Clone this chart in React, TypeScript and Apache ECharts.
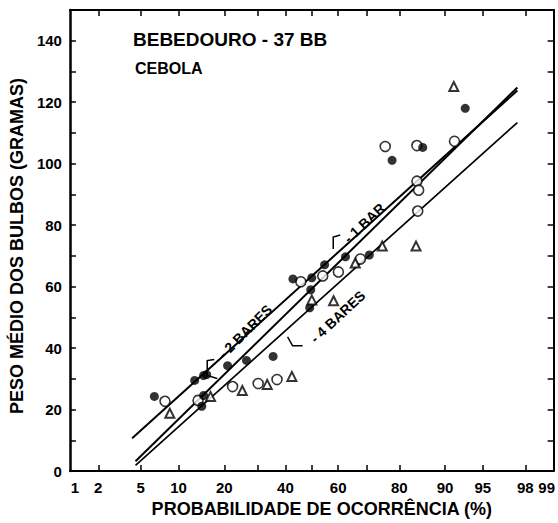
import React, { useEffect, useRef } from "react";
import * as echarts from "echarts";

// ---- data (x = probabilidade de ocorrência %, y = peso médio g) ----
const tickPct = [2, 5, 10, 20, 30, 40, 50, 60, 70, 80, 90, 95, 98];
const labelPct = [1, 2, 5, 10, 20, 40, 60, 80, 90, 95, 98, 99];
const yLabelValues = [0, 20, 40, 60, 80, 100, 120, 140];

const filledPct = [6.5, 13.0, 14.9, 15.6, 14.9, 14.5, 20.9, 26.5, 35.5, 42.8, 50.0, 49.6, 49.2, 54.9, 62.7, 71.0, 78.0, 85.7, 93.0];
const filledGrams = [24.3, 29.5, 31.1, 31.4, 24.6, 21.1, 34.3, 36.0, 37.3, 62.5, 62.9, 59.0, 53.1, 67.1, 69.7, 70.3, 101.1, 105.3, 118.0];

const openPct = [7.9, 13.7, 22.3, 30.3, 36.9, 45.8, 54.2, 60.1, 68.0, 76.0, 84.4, 91.5, 84.4, 84.8, 84.6];
const openGrams = [22.7, 23.0, 27.5, 28.5, 29.8, 61.6, 63.5, 64.8, 69.0, 105.6, 105.9, 107.3, 94.3, 91.4, 84.6];

const triPct = [8.6, 16.5, 25.2, 33.4, 42.4, 50.0, 58.3, 66.2, 75.1, 84.2, 91.4];
const triGrams = [18.8, 24.3, 26.2, 28.2, 30.8, 55.7, 55.4, 67.7, 73.2, 73.2, 125.1];

const line2BaresPct = [4.2, 97.6];
const line2BaresGrams = [10.7, 123.8];
const line1BarPct = [4.5, 97.6];
const line1BarGrams = [3.2, 124.8];
const line4BaresPct = [4.5, 97.6];
const line4BaresGrams = [1.9, 113.4];

const annoText = ["- 2 BARES", "- 1 BAR", "- 4 BARES"];
const annoPct = [26.1, 69.3, 59.8];
const annoGrams = [45.4, 80.7, 50.2];

// inverse normal CDF (Acklam) for the probability scale
function probit(p: number): number {
  const a = [-3.969683028665376e1, 2.209460984245205e2, -2.759285104469687e2, 1.38357751867269e2, -3.066479806614716e1, 2.506628277459239];
  const b = [-5.447609879822406e1, 1.615858368580409e2, -1.556989798598866e2, 6.680131188771972e1, -1.328068155288572e1];
  const c = [-7.784894002430293e-3, -3.223964580411365e-1, -2.400758277161838, -2.549732539343734, 4.374664141464968, 2.938163982698783];
  const d = [7.784695709041462e-3, 3.224671290700398e-1, 2.445134137142996, 3.754408661907416];
  const plow = 0.02425;
  const phigh = 1 - plow;
  if (p < plow) {
    const q = Math.sqrt(-2 * Math.log(p));
    return (((((c[0] * q + c[1]) * q + c[2]) * q + c[3]) * q + c[4]) * q + c[5]) / ((((d[0] * q + d[1]) * q + d[2]) * q + d[3]) * q + 1);
  }
  if (p <= phigh) {
    const q = p - 0.5;
    const r = q * q;
    return ((((((a[0] * r + a[1]) * r + a[2]) * r + a[3]) * r + a[4]) * r + a[5]) * q) / (((((b[0] * r + b[1]) * r + b[2]) * r + b[3]) * r + b[4]) * r + 1);
  }
  const q = Math.sqrt(-2 * Math.log(1 - p));
  return -(((((c[0] * q + c[1]) * q + c[2]) * q + c[3]) * q + c[4]) * q + c[5]) / ((((d[0] * q + d[1]) * q + d[2]) * q + d[3]) * q + 1);
}
const z = (pct: number) => probit(pct / 100);
const pairs = (xs: number[], ys: number[]) => xs.map((p, i) => [z(p), ys[i]]);

const FONT = "'Liberation Sans', Arial, sans-serif";
const X_MIN = z(1);
const X_MAX = z(99);

export default function App() {
  const ref = useRef<HTMLDivElement>(null);
  useEffect(() => {
    if (!ref.current) return;
    const chart = echarts.init(ref.current, null, { renderer: "svg" });
    const labelFor = (v: number) => {
      const p = labelPct.find((q) => Math.abs(z(q) - v) < 1e-6);
      if (p === undefined) return "";
      if (p === 1) return "{l|1}";
      if (p === 99) return "{r|99}";
      return String(p);
    };
    const labelStyle = { fontFamily: FONT, fontWeight: "bold" as const, fontSize: 15, color: "#000" };
    const lineSeries = (name: string, xs: number[], ys: number[], w: number) => ({
      type: "line",
      name,
      data: pairs(xs, ys),
      showSymbol: false,
      symbol: "none",
      lineStyle: { color: "#000", width: w },
      z: 2,
      silent: true,
    });
    chart.setOption({
      animation: false,
      backgroundColor: "#fff",
      title: [
        { text: "BEBEDOURO - 37 BB", left: 133, top: 30, padding: 0, textStyle: { fontFamily: FONT, fontWeight: "bold", fontSize: 19, color: "#000" } },
        { text: "CEBOLA", left: 135, top: 60, padding: 0, textStyle: { fontFamily: FONT, fontWeight: "bold", fontSize: 16, color: "#000" } },
      ],
      grid: { left: 68, right: 2, top: 10, bottom: 50, containLabel: false },
      xAxis: [
        {
          type: "value",
          min: X_MIN,
          max: X_MAX,
          position: "bottom",
          name: "PROBABILIDADE DE OCORRÊNCIA (%)",
          nameLocation: "middle",
          nameGap: 22,
          nameTextStyle: { fontFamily: FONT, fontWeight: "bold", fontSize: 18, color: "#000", padding: [0, 0, 0, 20] },
          axisLine: { onZero: false, lineStyle: { color: "#000", width: 2 } },
          axisTick: { inside: true, length: 6, customValues: tickPct.map(z), lineStyle: { color: "#000", width: 1.5 } },
          axisLabel: {
            ...labelStyle,
            margin: 9,
            customValues: labelPct.map(z),
            formatter: labelFor,
            hideOverlap: false,
            showMinLabel: true,
            showMaxLabel: true,
            rich: {
              l: { ...labelStyle, padding: [0, 0, 0, 10] },
              r: { ...labelStyle, padding: [0, 14, 0, 0] },
            },
          },
          splitLine: { show: false },
        },
        {
          type: "value",
          min: X_MIN,
          max: X_MAX,
          position: "top",
          axisLine: { onZero: false, lineStyle: { color: "#000", width: 2 } },
          axisTick: { inside: true, length: 6, customValues: tickPct.map(z), lineStyle: { color: "#000", width: 1.5 } },
          axisLabel: { show: false },
          splitLine: { show: false },
        },
      ],
      yAxis: [
        {
          type: "value",
          min: 0,
          max: 150,
          interval: 10,
          position: "left",
          name: "PESO MÉDIO DOS BULBOS (GRAMAS)",
          nameLocation: "middle",
          nameGap: 38,
          nameTextStyle: { fontFamily: FONT, fontWeight: "bold", fontSize: 18, color: "#000", padding: [0, 11, 0, 0] },
          axisLine: { onZero: false, lineStyle: { color: "#000", width: 2.5 } },
          axisTick: { inside: true, length: 6, lineStyle: { color: "#000", width: 1.5 } },
          axisLabel: {
            ...labelStyle,
            margin: 8,
            formatter: (v: number) => (yLabelValues.includes(v) ? String(v) : ""),
          },
          splitLine: { show: false },
        },
        {
          type: "value",
          min: 0,
          max: 150,
          interval: 10,
          position: "right",
          axisLine: { onZero: false, lineStyle: { color: "#000", width: 2 } },
          axisTick: { inside: true, length: 6, lineStyle: { color: "#000", width: 1.5 } },
          axisLabel: { show: false },
          splitLine: { show: false },
        },
      ],
      series: [
        lineSeries("2 BARES", line2BaresPct, line2BaresGrams, 2),
        lineSeries("1 BAR", line1BarPct, line1BarGrams, 2),
        lineSeries("4 BARES", line4BaresPct, line4BaresGrams, 1.7),
        {
          type: "scatter",
          name: "open",
          data: pairs(openPct, openGrams),
          symbol: "circle",
          symbolSize: 10,
          itemStyle: { color: "#fff", borderColor: "#000", borderWidth: 1.6 },
          z: 3,
        },
        {
          type: "scatter",
          name: "filled",
          data: pairs(filledPct, filledGrams),
          symbol: "circle",
          symbolSize: 9,
          itemStyle: { color: "#000" },
          z: 4,
        },
        {
          type: "scatter",
          name: "triangle",
          data: pairs(triPct, triGrams),
          symbol: "triangle",
          symbolSize: 9,
          itemStyle: { color: "#fff", borderColor: "#000", borderWidth: 2 },
          z: 4,
        },
      ],
    });

    // annotations anchored on data coordinates
    const rotations = [0.785, 0.75, 0.75];
    const brackets = [
      [[-31, 28], [-38, 29], [-38, 44], [-28, 47]],
      [[-31, 26], [-31, 14], [-24, 12]],
      [[-50, 20], [-45, 29], [-35, 29]],
    ];
    const graphic: any[] = [];
    annoText.forEach((t, i) => {
      const [px, py] = chart.convertToPixel({ xAxisIndex: 0, yAxisIndex: 0 }, [z(annoPct[i]), annoGrams[i]]) as number[];
      graphic.push({
        type: "text",
        x: px,
        y: py,
        rotation: rotations[i],
        style: { text: t, fontFamily: FONT, fontWeight: "bold", fontSize: 14, fill: "#000", align: "center", verticalAlign: "middle" },
        z: 10,
      });
      graphic.push({
        type: "polyline",
        shape: { points: brackets[i].map(([dx, dy]) => [px + dx, py + dy]) },
        style: { stroke: "#000", lineWidth: 1.5, fill: null },
        z: 10,
      });
    });
    chart.setOption({ graphic });

    return () => chart.dispose();
  }, []);
  return <div ref={ref} style={{ position: "absolute", left: 0, top: 0, width: 558, height: 523 }} />;
}
